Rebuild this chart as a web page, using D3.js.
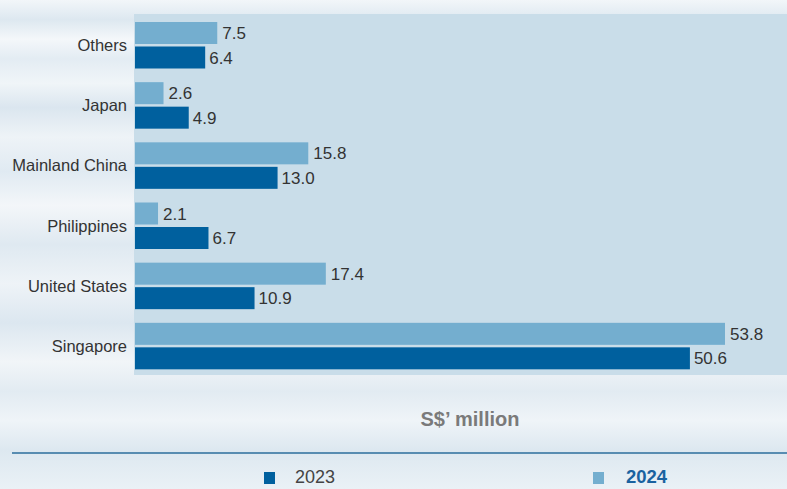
<!DOCTYPE html>
<html>
<head>
<meta charset="utf-8">
<script src="https://cdn.jsdelivr.net/npm/d3@7"></script>
<style>
  body { margin: 0; }
  svg { display: block; font-family: "Liberation Sans", Arial, sans-serif; }
</style>
</head>
<body>
<div id="chart"></div>
<script>
const categories = ["Others", "Japan", "Mainland China", "Philippines", "United States", "Singapore"];
const values2024 = [7.5, 2.6, 15.8, 2.1, 17.4, 53.8];
const values2023 = [6.4, 4.9, 13.0, 6.7, 10.9, 50.6];
const seriesNames = ["2023", "2024"];

const width = 787;
const height = 489;
const plot = { left: 134, top: 14, right: 787, bottom: 375 };

const svg = d3.select("#chart")
  .append("svg")
  .attr("width", width)
  .attr("height", height);

// streaky background
const defs = svg.append("defs");
const bg = defs.append("linearGradient")
  .attr("id", "bg")
  .attr("x1", 0).attr("y1", 0).attr("x2", 0).attr("y2", 1);
const stops = [
  [0, "#f2f6f9"], [0.04, "#dde8f0"], [0.08, "#f4f7fa"], [0.12, "#e3ecf3"],
  [0.17, "#f0f5f8"], [0.22, "#dbe6ef"], [0.28, "#eef3f7"], [0.35, "#e0eaf2"],
  [0.42, "#f3f6f9"], [0.5, "#dfe9f1"], [0.58, "#eef3f7"], [0.66, "#dce7f0"],
  [0.74, "#f1f5f8"], [0.8, "#e2ebf2"], [0.86, "#eff4f8"], [0.92, "#dde8f0"],
  [1, "#eaf1f6"]
];
bg.selectAll("stop").data(stops).enter().append("stop")
  .attr("offset", d => d[0])
  .attr("stop-color", d => d[1]);

svg.append("rect")
  .attr("width", width)
  .attr("height", height)
  .attr("fill", "url(#bg)");

svg.append("rect")
  .attr("x", plot.left)
  .attr("y", plot.top)
  .attr("width", plot.right - plot.left)
  .attr("height", plot.bottom - plot.top)
  .attr("fill", "#c9dde9");

const x = d3.scaleLinear()
  .domain([0, 53.8])
  .range([135, 725]);

const y = d3.scaleBand()
  .domain(categories)
  .range([22, 383])
  .paddingInner(0)
  .paddingOuter(0);

const barH = 22;
const gap = 2.5;

const groups = svg.append("g")
  .selectAll("g")
  .data(categories)
  .enter()
  .append("g")
  .attr("transform", d => `translate(0,${y(d)})`);

// category labels
groups.append("text")
  .attr("x", 127)
  .attr("y", barH + gap / 2)
  .attr("dy", "0.35em")
  .attr("text-anchor", "end")
  .attr("font-size", 16.5)
  .attr("fill", "#333")
  .text(d => d);

// 2024 bars
groups.append("rect")
  .attr("x", x(0))
  .attr("y", 0)
  .attr("width", (d, i) => x(values2024[i]) - x(0))
  .attr("height", barH)
  .attr("fill", "#74aecf");

groups.append("text")
  .attr("x", (d, i) => x(values2024[i]) + 5)
  .attr("y", barH / 2)
  .attr("dy", "0.36em")
  .attr("font-size", 17)
  .attr("fill", "#333")
  .text((d, i) => values2024[i].toFixed(1));

// 2023 bars
groups.append("rect")
  .attr("x", x(0))
  .attr("y", barH + gap)
  .attr("width", (d, i) => x(values2023[i]) - x(0))
  .attr("height", barH)
  .attr("fill", "#00609e");

groups.append("text")
  .attr("x", (d, i) => x(values2023[i]) + 4)
  .attr("y", barH + gap + barH / 2)
  .attr("dy", "0.36em")
  .attr("font-size", 17)
  .attr("fill", "#333")
  .text((d, i) => values2023[i].toFixed(1));

// unit label
svg.append("text")
  .attr("x", 470)
  .attr("y", 426)
  .attr("text-anchor", "middle")
  .attr("font-size", 20)
  .attr("font-weight", "bold")
  .attr("fill", "#7a7a7a")
  .text("S$\u2019 million");

// divider
svg.append("line")
  .attr("x1", 12)
  .attr("x2", width)
  .attr("y1", 453)
  .attr("y2", 453)
  .attr("stroke", "#2b6e9d")
  .attr("stroke-width", 1.5);

// legend
const legend = [
  { name: seriesNames[0], color: "#00609e", x: 264, bold: false, text: "#444" },
  { name: seriesNames[1], color: "#74aecf", x: 593, bold: true, text: "#1a62a0" }
];
const lg = svg.append("g")
  .selectAll("g")
  .data(legend)
  .enter()
  .append("g")
  .attr("transform", d => `translate(${d.x},472)`);

lg.append("rect")
  .attr("width", 11)
  .attr("height", 12)
  .attr("fill", d => d.color);

lg.append("text")
  .attr("x", d => d.bold ? 33 : 31)
  .attr("y", 11)
  .attr("font-size", d => d.bold ? 18.5 : 18)
  .attr("font-weight", d => d.bold ? "bold" : "normal")
  .attr("fill", d => d.text)
  .text(d => d.name);
</script>
</body>
</html>
